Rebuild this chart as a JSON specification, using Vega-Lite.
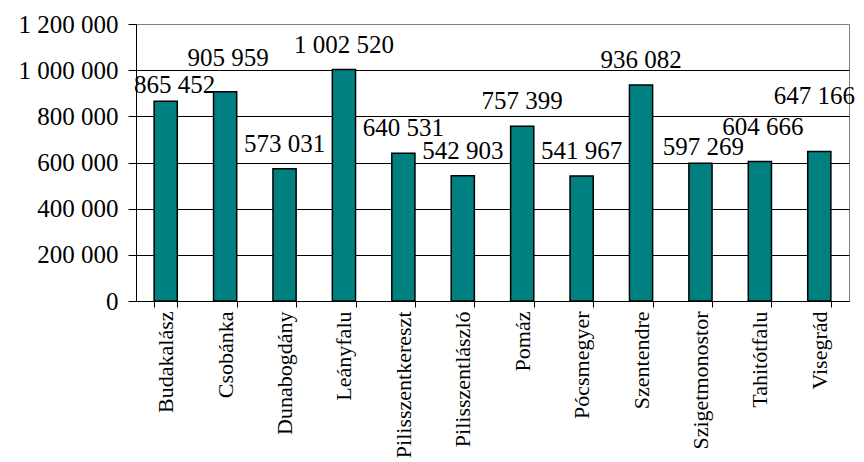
{
  "$schema": "https://vega.github.io/schema/vega-lite/v6.json",
  "autosize": "none",
  "width": 713,
  "height": 277,
  "padding": {"left": 136, "top": 24, "right": 15, "bottom": 161},
  "background": "white",
  "config": {
    "locale": {"number": {"decimal": ",", "thousands": " ", "grouping": [3], "currency": ["", ""]}},
    "view": {"stroke": "#808080", "strokeWidth": 1},
    "font": "Times New Roman, Liberation Serif, serif"
  },
  "data": {
    "values": [
      {"town": "Budakalász", "value": 865452},
      {"town": "Csobánka", "value": 905959},
      {"town": "Dunabogdány", "value": 573031},
      {"town": "Leányfalu", "value": 1002520},
      {"town": "Pilisszentkereszt", "value": 640531},
      {"town": "Pilisszentlászló", "value": 542903},
      {"town": "Pomáz", "value": 757399},
      {"town": "Pócsmegyer", "value": 541967},
      {"town": "Szentendre", "value": 936082},
      {"town": "Szigetmonostor", "value": 597269},
      {"town": "Tahitótfalu", "value": 604666},
      {"town": "Visegrád", "value": 647166}
    ]
  },
  "encoding": {
    "x": {
      "field": "town", "type": "nominal", "sort": null,
      "scale": {"paddingInner": 0.61, "paddingOuter": 0.305},
      "axis": {
        "title": null, "labelAngle": -90, "labelAlign": "right", "labelBaseline": "middle",
        "labelFont": "Times New Roman, Liberation Serif, serif", "labelFontSize": 22, "labelColor": "black",
        "labelPadding": 4, "tickBand": "extent", "ticks": true, "tickSize": 6,
        "tickColor": "black", "domainColor": "black", "grid": false
      }
    },
    "y": {
      "field": "value", "type": "quantitative",
      "scale": {"domain": [0, 1200000], "nice": false},
      "axis": {
        "title": null, "values": [0, 200000, 400000, 600000, 800000, 1000000, 1200000],
        "labelExpr": "format(datum.value, ',')",
        "labelFont": "Times New Roman, Liberation Serif, serif", "labelFontSize": 25, "labelColor": "black",
        "labelPadding": 10, "tickSize": 8, "tickColor": "black", "domainColor": "black",
        "grid": true, "gridColor": {"condition": {"test": "datum.value == 1200000", "value": "#808080"}, "value": "black"},
        "gridWidth": 1
      }
    }
  },
  "layer": [
    {"mark": {"type": "bar", "fill": "#008080", "stroke": "black", "strokeWidth": 1.5}},
    {
      "transform": [{"filter": {"field": "town", "oneOf": ["Dunabogdány", "Leányfalu", "Pilisszentkereszt", "Pilisszentlászló", "Pomáz", "Pócsmegyer", "Szentendre"]}}],
      "mark": {"type": "text", "baseline": "alphabetic", "dy": -17, "fontSize": 25, "font": "Times New Roman, Liberation Serif, serif", "color": "black"},
      "encoding": {"text": {"field": "value", "format": ","}}
    },
    {
      "transform": [{"filter": {"field": "town", "equal": "Budakalász"}}],
      "mark": {"type": "text", "baseline": "alphabetic", "dy": -8, "dx": 9, "fontSize": 25, "font": "Times New Roman, Liberation Serif, serif", "color": "black"},
      "encoding": {"text": {"field": "value", "format": ","}}
    },
    {
      "transform": [{"filter": {"field": "town", "equal": "Szigetmonostor"}}],
      "mark": {"type": "text", "baseline": "alphabetic", "dy": -8, "dx": 3, "fontSize": 25, "font": "Times New Roman, Liberation Serif, serif", "color": "black"},
      "encoding": {"text": {"field": "value", "format": ","}}
    },
    {
      "transform": [{"filter": {"field": "town", "oneOf": ["Csobánka", "Tahitótfalu"]}}],
      "mark": {"type": "text", "baseline": "alphabetic", "dy": -26, "dx": 3, "fontSize": 25, "font": "Times New Roman, Liberation Serif, serif", "color": "black"},
      "encoding": {"text": {"field": "value", "format": ","}}
    },
    {
      "transform": [{"filter": {"field": "town", "equal": "Visegrád"}}],
      "mark": {"type": "text", "baseline": "alphabetic", "dy": -48, "dx": -5, "fontSize": 25, "font": "Times New Roman, Liberation Serif, serif", "color": "black"},
      "encoding": {"text": {"field": "value", "format": ","}}
    }
  ]
}
